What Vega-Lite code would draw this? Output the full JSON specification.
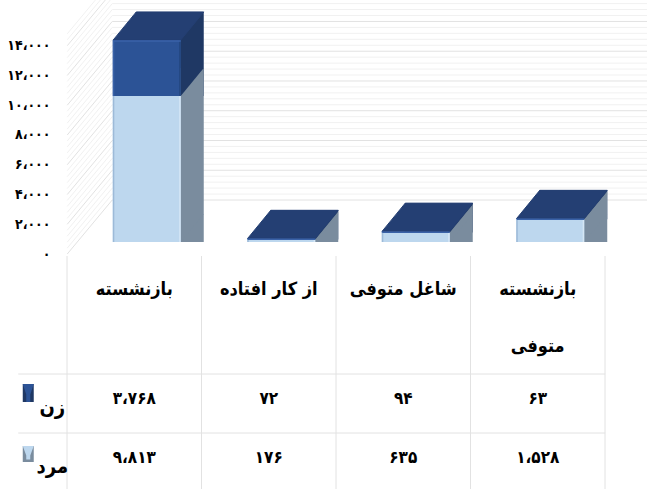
{"$schema":"https://vega.github.io/schema/vega-lite/v6.json","width":647,"height":489,"padding":0,"autosize":{"type":"none"},"background":"#ffffff","config":{"view":{"stroke":null},"font":"DejaVu Sans Condensed"},
"datasets":{"rows":[
{"cat":"بازنشسته","series":"زن","value":3768,"label":"۳،۷۶۸"},
{"cat":"بازنشسته","series":"مرد","value":9813,"label":"۹،۸۱۳"},
{"cat":"از کار افتاده","series":"زن","value":72,"label":"۷۲"},
{"cat":"از کار افتاده","series":"مرد","value":176,"label":"۱۷۶"},
{"cat":"شاغل متوفی","series":"زن","value":94,"label":"۹۴"},
{"cat":"شاغل متوفی","series":"مرد","value":635,"label":"۶۳۵"},
{"cat":"بازنشسته\nمتوفی","series":"زن","value":63,"label":"۶۳"},
{"cat":"بازنشسته\nمتوفی","series":"مرد","value":1528,"label":"۱،۵۲۸"}],
"major":[{"v":0},{"v":2000},{"v":4000},{"v":6000},{"v":8000},{"v":10000},{"v":12000},{"v":14000}],
"minor":[{"v":400},{"v":800},{"v":1200},{"v":1600},{"v":2400},{"v":2800},{"v":3200},{"v":3600},{"v":4400},{"v":4800},{"v":5200},{"v":5600},{"v":6400},{"v":6800},{"v":7200},{"v":7600},{"v":8400},{"v":8800},{"v":9200},{"v":9600},{"v":10400},{"v":10800},{"v":11200},{"v":11600},{"v":12400},{"v":12800},{"v":13200},{"v":13600},{"v":14400},{"v":14800}],
"cols":[{"cat":"بازنشسته"},{"cat":"از کار افتاده"},{"cat":"شاغل متوفی"},{"cat":"بازنشسته\nمتوفی"}],
"legend":[{"series":"زن"},{"series":"مرد"}]},
"data":{"name":"rows"},
"resolve":{"scale":{"y":"independent"}},
"layer":[
{"encoding":{"x":{"field":"cat","type":"nominal","axis":null,"sort":null,"scale":{"type":"band","domain":["بازنشسته","از کار افتاده","شاغل متوفی","بازنشسته\nمتوفی"],"range":[67,605],"paddingInner":0,"paddingOuter":0}}},
"layer":[
{"data":{"name":"minor"},"mark":{"type":"point","filled":false,"size":4,"opacity":1,"strokeWidth":1,"color":"#f1f1f1","shape":"M-67,12 L-22,-42 L513,-42"},"encoding":{"x":{"datum":"بازنشسته","type":"nominal"},"y":{"field":"v","type":"quantitative","scale":{"domain":[0,14000],"range":[242,33.7],"nice":false,"zero":false,"clamp":false},"axis":{"orient":"left","offset":-50,"values":[0,2000,4000,6000,8000,10000,12000,14000],"labelExpr":"{'0':'۰','2000':'۲،۰۰۰','4000':'۴،۰۰۰','6000':'۶،۰۰۰','8000':'۸،۰۰۰','10000':'۱۰،۰۰۰','12000':'۱۲،۰۰۰','14000':'۱۴،۰۰۰'}[datum.value]","labelOffset":12,"labelFontSize":14,"labelFont":"DejaVu Sans Condensed","labelFontWeight":"bold","labelColor":"#000000","domain":false,"ticks":false,"grid":false,"title":null,"labelPadding":0}}}},
{"data":{"name":"major"},"mark":{"type":"point","filled":false,"size":4,"opacity":1,"strokeWidth":1,"color":"#e2e2e2","shape":"M-67,12 L-22,-42 L513,-42"},"encoding":{"x":{"datum":"بازنشسته","type":"nominal"},"y":{"field":"v","type":"quantitative"}}},
{"transform":[{"stack":"value","groupby":["cat"],"sort":[{"field":"series","order":"descending"}],"as":["y0","y1"]}],
"layer":[
{"mark":{"type":"bar","width":68,"xOffset":35.5,"yOffset":-28},"encoding":{"y":{"field":"y1","type":"quantitative"},"y2":{"field":"y0"},"color":{"condition":{"test":"datum.series==='زن'","value":"#1f3864"},"value":"#7a8c9e"}}},
{"mark":{"type":"point","filled":true,"size":4,"opacity":1,"strokeWidth":0,"shape":"M46.5,0 L69.5,-28 L46.5,-28 Z"},"transform":[{"filter":"datum.series==='مرد'"}],"encoding":{"y":{"field":"y0","type":"quantitative"},"color":{"value":"#7a8c9e"}}},
{"mark":{"type":"point","filled":true,"size":4,"opacity":1,"strokeWidth":0,"shape":"M46.5,0 L69.5,-28 L46.5,-28 Z"},"transform":[{"filter":"datum.series==='زن'"}],"encoding":{"y":{"field":"y0","type":"quantitative"},"color":{"value":"#1f3864"}}},
{"mark":{"type":"bar","width":68,"xOffset":12.5},"encoding":{"y":{"field":"y1","type":"quantitative"},"y2":{"field":"y0"},"color":{"condition":{"test":"datum.series==='زن'","value":"#2c5396"},"value":"#bdd7ee"}}},
{"mark":{"type":"bar","width":1.5,"xOffset":-20.7},"encoding":{"y":{"field":"y1","type":"quantitative"},"y2":{"field":"y0"},"color":{"condition":{"test":"datum.series==='زن'","value":"#3a62a8"},"value":"#9dbad8"}}},
{"mark":{"type":"bar","width":1.5,"xOffset":45.7},"encoding":{"y":{"field":"y1","type":"quantitative"},"y2":{"field":"y0"},"color":{"condition":{"test":"datum.series==='زن'","value":"#24477f"},"value":"#d5e6f5"}}},
{"mark":{"type":"point","filled":true,"size":4,"opacity":1,"strokeWidth":1,"strokeJoin":"round","stroke":"#243f73","shape":"M-21,0 L46.5,0 L69.5,-28 L2,-28 Z"},"transform":[{"filter":"datum.series==='زن'"}],"encoding":{"y":{"field":"y1","type":"quantitative"},"color":{"value":"#243f73"}}},
{"mark":{"type":"point","filled":false,"size":4,"opacity":1,"strokeWidth":1.5,"color":"#3a62a8","shape":"M-21,1 L46.5,1"},"transform":[{"filter":"datum.series==='زن'"}],"encoding":{"y":{"field":"y1","type":"quantitative"}}}
]}
]},
{"encoding":{"x":{"field":"cat","type":"nominal","axis":null},"y":{"field":"series","type":"nominal","axis":null,"scale":{"type":"band","domain":["h1","h2","زن","مرد"],"range":[256,492],"paddingInner":0,"paddingOuter":0}}},
"layer":[
{"data":{"name":"cols"},"mark":{"type":"point","filled":false,"size":4,"opacity":1,"strokeWidth":1,"color":"#e2e2e2","shape":"M0,0 L0,233"},"encoding":{"x":{"field":"cat","type":"nominal","bandPosition":0},"y":{"datum":"h1","type":"nominal","bandPosition":0}}},
{"data":{"name":"cols"},"transform":[{"filter":"indexof(datum.cat,'\\n')>=0"}],"mark":{"type":"point","filled":false,"size":4,"opacity":1,"strokeWidth":1,"color":"#e2e2e2","shape":"M0,0 L0,233"},"encoding":{"x":{"field":"cat","type":"nominal","bandPosition":1},"y":{"datum":"h1","type":"nominal","bandPosition":0}}},
{"data":{"name":"legend"},"mark":{"type":"point","filled":false,"size":4,"opacity":1,"strokeWidth":1,"color":"#e2e2e2","shape":"M-116,0 L471,0"},"encoding":{"x":{"datum":"بازنشسته","type":"nominal"},"y":{"field":"series","type":"nominal","bandPosition":0}}},
{"data":{"name":"cols"},"mark":{"type":"text","fontSize":18,"fontWeight":"bold","lineBreak":"\n","lineHeight":57,"baseline":"alphabetic","yOffset":9,"color":"#000000"},"encoding":{"y":{"datum":"h1","type":"nominal"},"text":{"field":"cat"}}},
{"mark":{"type":"text","fontSize":17,"fontWeight":"bold","yOffset":-5,"color":"#000000"},"encoding":{"text":{"field":"label"}}},
{"data":{"name":"legend"},"mark":{"type":"text","fontSize":20,"fontWeight":"bold","xOffset":-82,"yOffset":4,"color":"#000000"},"encoding":{"x":{"datum":"بازنشسته","type":"nominal"},"text":{"field":"series"}}},
{"data":{"name":"legend"},"transform":[{"filter":"datum.series==='زن'"}],"mark":{"type":"point","filled":true,"size":4,"opacity":1,"strokeWidth":0,"color":"#1f3864","shape":"M-111.5,-19.5 L-100.5,-19.5 L-100.5,-1.5 L-111.5,-1.5 Z"},"encoding":{"x":{"datum":"بازنشسته","type":"nominal"}}},
{"data":{"name":"legend"},"transform":[{"filter":"datum.series==='زن'"}],"mark":{"type":"point","filled":true,"size":4,"opacity":1,"strokeWidth":0,"color":"#2c5396","shape":"M-111.5,-19.5 L-100.5,-19.5 L-104,-9 L-104,-1.5 L-108,-1.5 L-108,-9 Z"},"encoding":{"x":{"datum":"بازنشسته","type":"nominal"}}},
{"data":{"name":"legend"},"transform":[{"filter":"datum.series==='مرد'"}],"mark":{"type":"point","filled":true,"size":4,"opacity":1,"strokeWidth":0,"color":"#7a8c9e","shape":"M-111.5,-16.5 L-100.5,-16.5 L-100.5,-0.5 L-111.5,-0.5 Z"},"encoding":{"x":{"datum":"بازنشسته","type":"nominal"}}},
{"data":{"name":"legend"},"transform":[{"filter":"datum.series==='مرد'"}],"mark":{"type":"point","filled":true,"size":4,"opacity":1,"strokeWidth":0,"color":"#bdd7ee","shape":"M-111.5,-16.5 L-100.5,-16.5 L-104,-7 L-104,-3 L-108,-3 L-108,-7 Z"},"encoding":{"x":{"datum":"بازنشسته","type":"nominal"}}}
]}
]}
